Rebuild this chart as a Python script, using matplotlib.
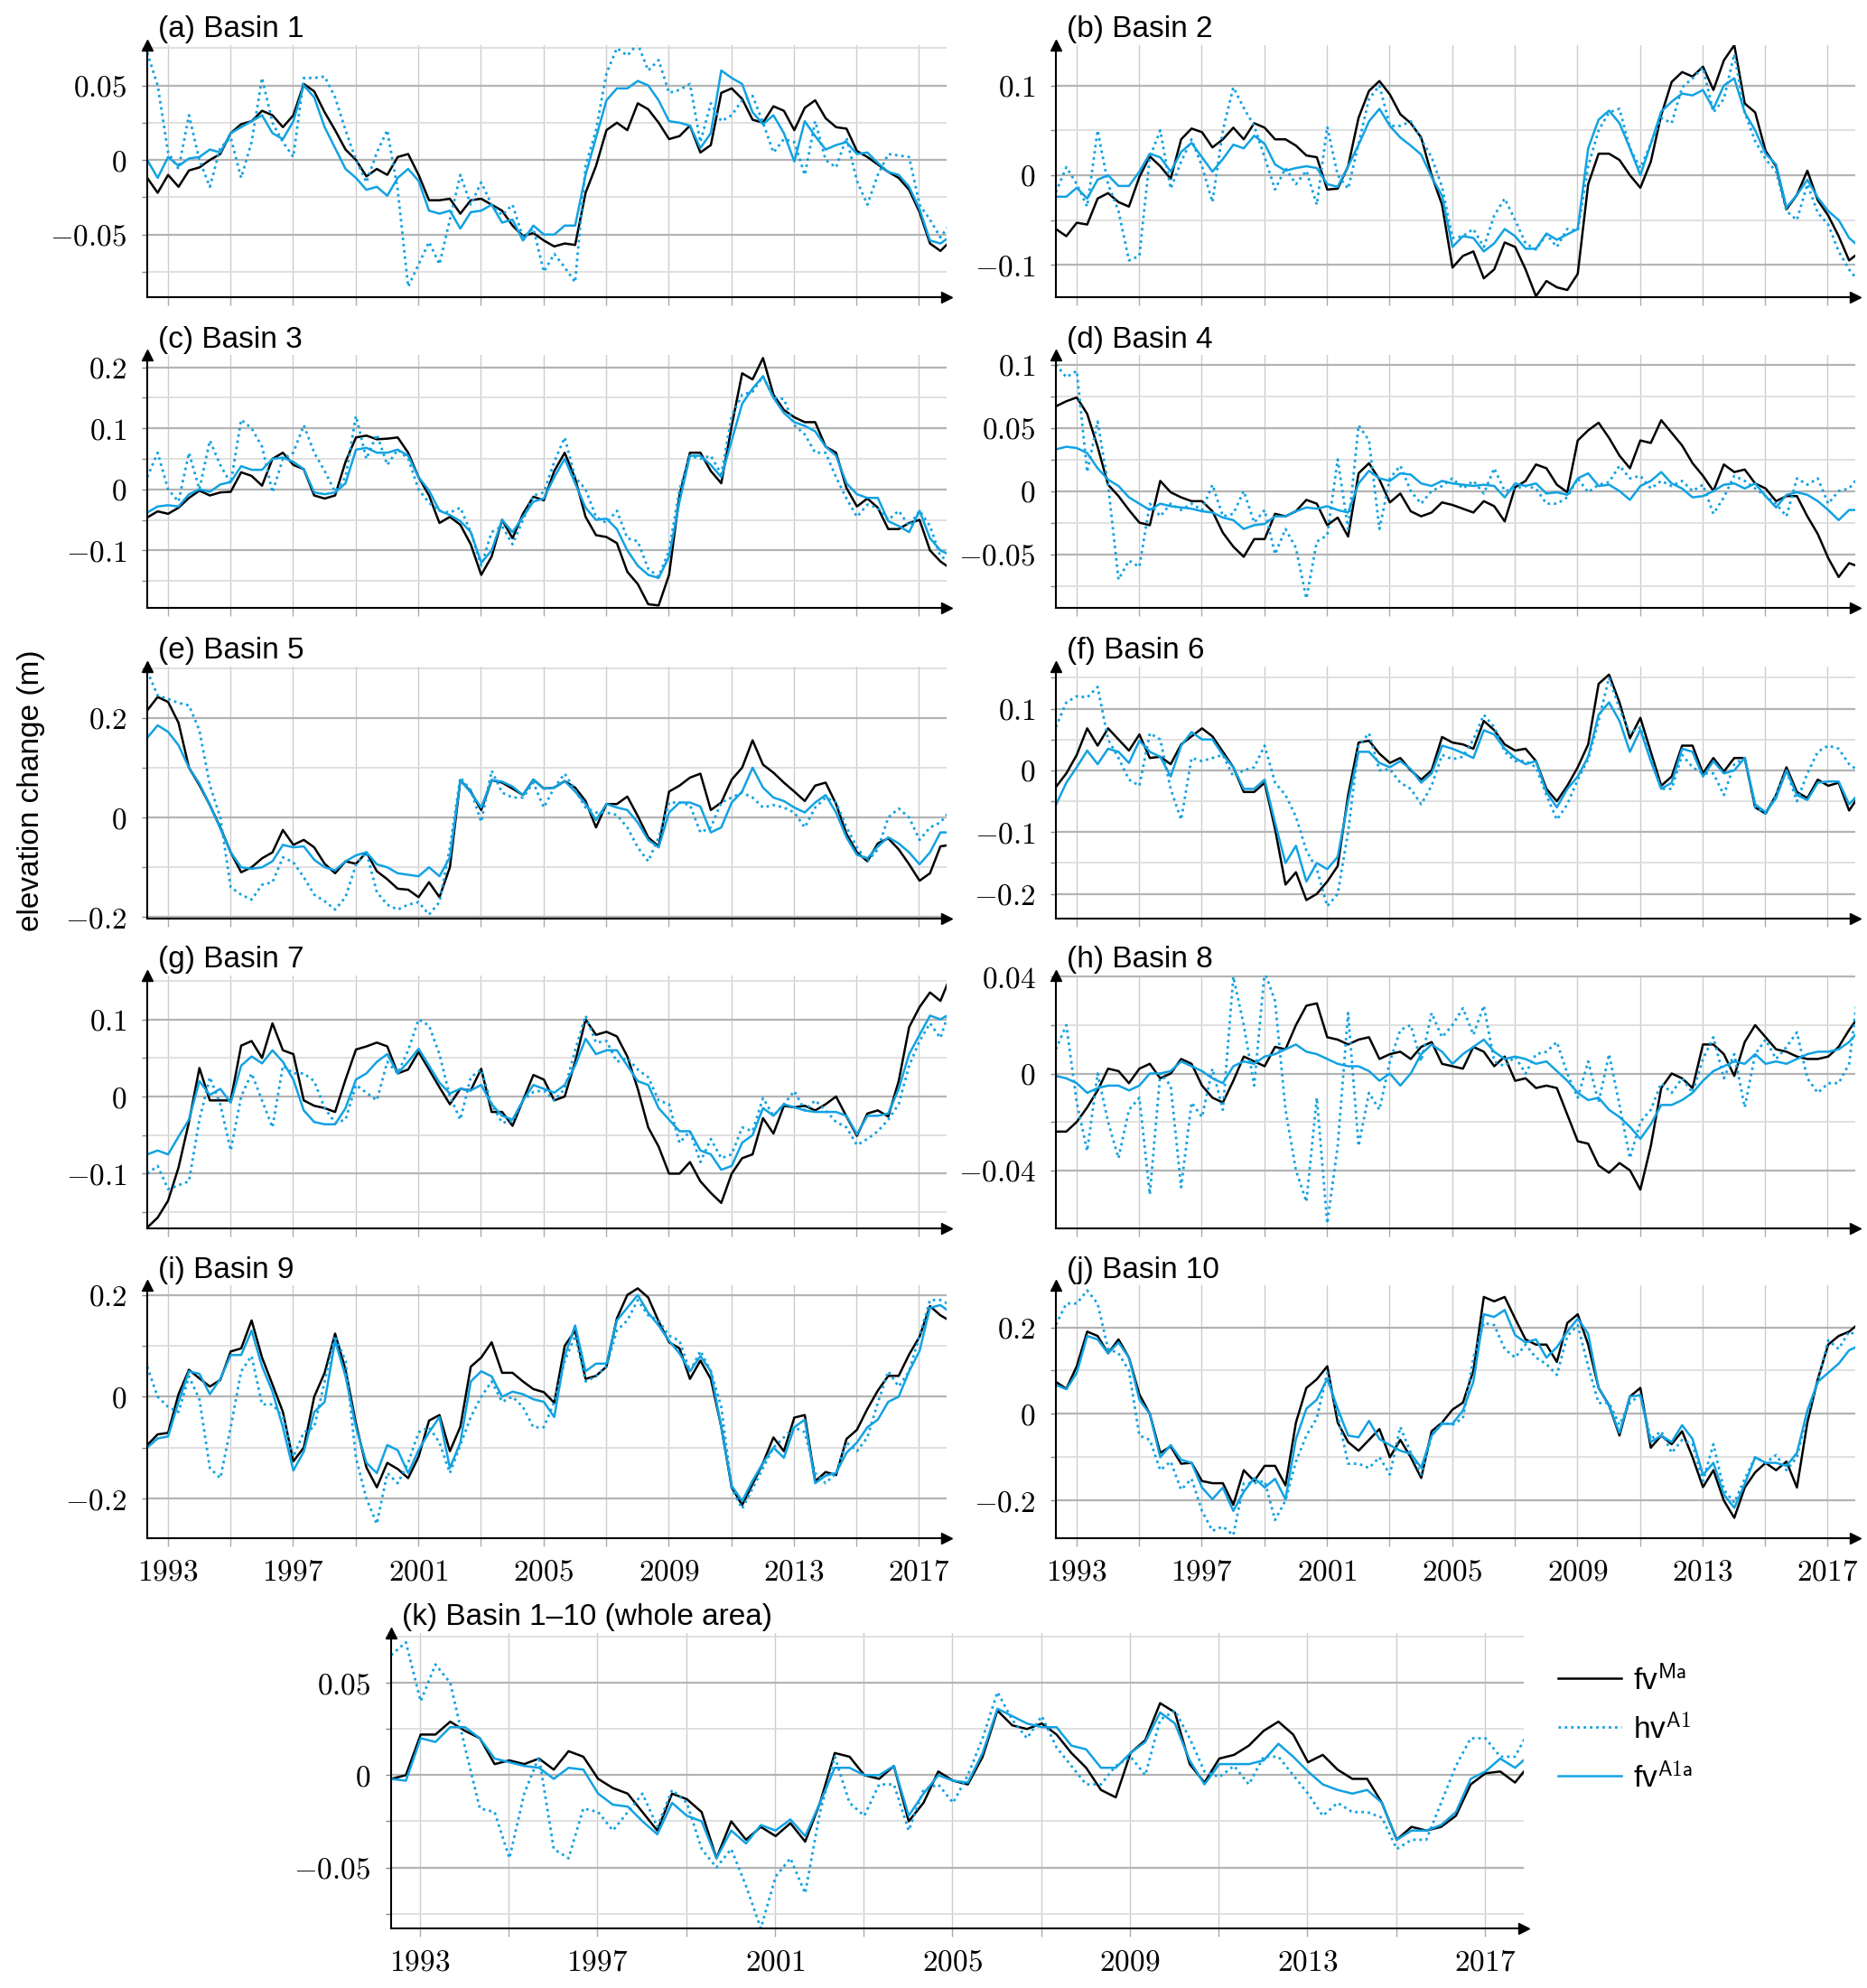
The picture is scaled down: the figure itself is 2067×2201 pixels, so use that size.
import numpy as np
import matplotlib
matplotlib.use('Agg')
import matplotlib.pyplot as plt
from matplotlib.lines import Line2D
from matplotlib.ticker import FixedLocator, FuncFormatter

plt.rcParams['font.family'] = ['Liberation Sans', 'DejaVu Sans']
plt.rcParams['mathtext.fontset'] = 'cm'

W, H = 2067, 2201
T0 = 1992.35          # first sample, one value every 4 months
XLIM = (1992.35, 2017.88)
BLUE = '#12a2e2'

# ---- Basin 1 ----
b1_fv_ma = [
    -0.012, -0.022, -0.010, -0.018, -0.007, -0.005, 0.000, 0.004, 0.018, 0.024, 0.026, 0.033, 0.030,
    0.022, 0.030, 0.051, 0.046, 0.032, 0.020, 0.007, 0.000, -0.011, -0.006, -0.010, 0.002, 0.004,
    -0.010, -0.027, -0.027, -0.026, -0.036, -0.027, -0.026, -0.030, -0.034, -0.044, -0.051, -0.049, -0.054,
    -0.058, -0.056, -0.057, -0.022, -0.004, 0.020, 0.025, 0.020, 0.038, 0.034, 0.025, 0.014, 0.016,
    0.023, 0.005, 0.010, 0.045, 0.048, 0.041, 0.027, 0.025, 0.036, 0.033, 0.020, 0.035, 0.040,
    0.028, 0.022, 0.021, 0.006, 0.002, -0.003, -0.008, -0.012, -0.020, -0.035, -0.056, -0.061, -0.054]
b1_hv_a1 = [
    0.072, 0.050, 0.005, -0.006, 0.030, 0.000, -0.018, 0.008, 0.015, -0.012, 0.012, 0.055, 0.025,
    0.012, 0.002, 0.055, 0.055, 0.056, 0.042, 0.020, 0.000, -0.015, 0.005, 0.020, -0.020, -0.085,
    -0.070, -0.055, -0.070, -0.040, -0.010, -0.030, -0.015, -0.030, -0.037, -0.030, -0.052, -0.046, -0.075,
    -0.063, -0.072, -0.082, -0.004, 0.020, 0.058, 0.075, 0.070, 0.078, 0.060, 0.067, 0.045, 0.047,
    0.051, 0.012, 0.038, 0.026, 0.030, 0.040, 0.043, 0.025, 0.005, 0.014, 0.012, -0.010, 0.026,
    0.000, -0.005, 0.015, -0.014, -0.030, -0.010, 0.004, 0.003, 0.002, -0.030, -0.040, -0.052, -0.042]
b1_fv_a1a = [
    0.000, -0.012, 0.002, -0.004, 0.001, 0.002, 0.007, 0.005, 0.018, 0.022, 0.026, 0.030, 0.018,
    0.014, 0.026, 0.050, 0.042, 0.022, 0.008, -0.006, -0.012, -0.020, -0.018, -0.024, -0.012, -0.006,
    -0.014, -0.034, -0.036, -0.034, -0.046, -0.035, -0.034, -0.030, -0.042, -0.040, -0.054, -0.044, -0.050,
    -0.050, -0.044, -0.044, -0.010, 0.015, 0.040, 0.048, 0.048, 0.053, 0.050, 0.040, 0.026, 0.025,
    0.023, 0.008, 0.018, 0.060, 0.055, 0.051, 0.032, 0.024, 0.030, 0.018, -0.001, 0.026, 0.016,
    0.007, 0.010, 0.012, 0.004, 0.005, -0.002, -0.008, -0.010, -0.018, -0.033, -0.054, -0.056, -0.051]

# ---- Basin 2 ----
b2_fv_ma = [
    -0.060, -0.068, -0.053, -0.055, -0.026, -0.020, -0.030, -0.035, -0.002, 0.021, 0.010, -0.004, 0.040,
    0.052, 0.048, 0.031, 0.040, 0.053, 0.040, 0.058, 0.053, 0.040, 0.040, 0.033, 0.022, 0.020,
    -0.016, -0.015, 0.010, 0.064, 0.094, 0.105, 0.090, 0.068, 0.058, 0.042, 0.000, -0.033, -0.103,
    -0.090, -0.085, -0.115, -0.105, -0.075, -0.080, -0.105, -0.135, -0.118, -0.125, -0.128, -0.110, -0.010,
    0.024, 0.024, 0.017, 0.000, -0.014, 0.015, 0.067, 0.104, 0.115, 0.110, 0.121, 0.095, 0.128,
    0.145, 0.080, 0.070, 0.027, 0.010, -0.038, -0.022, 0.005, -0.028, -0.045, -0.068, -0.095, -0.086]
b2_hv_a1 = [
    -0.019, 0.009, -0.010, -0.035, 0.050, -0.010, -0.040, -0.095, -0.090, 0.020, 0.050, -0.015, 0.015,
    0.040, 0.010, -0.030, 0.050, 0.098, 0.075, 0.055, 0.020, -0.016, 0.008, -0.010, 0.005, -0.033,
    0.054, 0.000, -0.015, 0.035, 0.085, 0.100, 0.055, 0.055, 0.060, 0.040, 0.020, -0.013, -0.070,
    -0.068, -0.060, -0.080, -0.045, -0.026, -0.050, -0.076, -0.083, -0.066, -0.080, -0.060, -0.062, 0.010,
    0.050, 0.070, 0.074, 0.030, 0.008, 0.035, 0.064, 0.058, 0.098, 0.108, 0.120, 0.070, 0.085,
    0.135, 0.070, 0.038, 0.018, 0.004, -0.040, -0.050, -0.010, -0.042, -0.055, -0.085, -0.105, -0.120]
b2_fv_a1a = [
    -0.024, -0.024, -0.014, -0.026, -0.005, 0.000, -0.012, -0.012, 0.004, 0.024, 0.020, 0.004, 0.026,
    0.036, 0.020, 0.004, 0.018, 0.034, 0.030, 0.044, 0.035, 0.012, 0.005, 0.008, 0.010, 0.008,
    -0.010, -0.013, 0.010, 0.034, 0.060, 0.074, 0.055, 0.042, 0.033, 0.023, -0.002, -0.023, -0.080,
    -0.068, -0.070, -0.085, -0.076, -0.060, -0.068, -0.082, -0.082, -0.065, -0.072, -0.066, -0.060, 0.030,
    0.062, 0.072, 0.058, 0.030, 0.000, 0.035, 0.071, 0.082, 0.091, 0.089, 0.095, 0.074, 0.100,
    0.108, 0.070, 0.050, 0.024, 0.012, -0.036, -0.022, -0.005, -0.025, -0.040, -0.050, -0.070, -0.080]

# ---- Basin 3 ----
b3_fv_ma = [
    -0.046, -0.036, -0.040, -0.030, -0.014, -0.002, -0.010, -0.005, -0.004, 0.028, 0.022, 0.006, 0.050,
    0.060, 0.040, 0.033, -0.010, -0.015, -0.010, 0.045, 0.085, 0.088, 0.082, 0.083, 0.085, 0.060,
    0.020, -0.010, -0.055, -0.045, -0.058, -0.090, -0.140, -0.110, -0.050, -0.080, -0.040, -0.012, -0.018,
    0.030, 0.060, 0.018, -0.045, -0.075, -0.078, -0.088, -0.135, -0.155, -0.188, -0.190, -0.140, -0.010,
    0.060, 0.060, 0.030, 0.010, 0.104, 0.190, 0.180, 0.215, 0.155, 0.130, 0.118, 0.110, 0.110,
    0.070, 0.060, 0.002, -0.028, -0.015, -0.030, -0.065, -0.065, -0.055, -0.050, -0.100, -0.118, -0.130]
b3_hv_a1 = [
    0.020, 0.060, 0.000, -0.020, 0.060, 0.000, 0.080, 0.040, 0.010, 0.114, 0.100, 0.070, -0.005,
    0.050, 0.060, 0.105, 0.060, 0.030, -0.004, 0.020, 0.120, 0.050, 0.090, 0.040, 0.065, 0.050,
    0.000, -0.022, -0.035, -0.038, -0.030, -0.070, -0.125, -0.070, -0.060, -0.090, -0.050, -0.010, -0.005,
    0.045, 0.085, 0.020, 0.000, -0.045, -0.055, -0.035, -0.080, -0.085, -0.130, -0.143, -0.100, 0.000,
    0.055, 0.050, 0.055, 0.025, 0.120, 0.155, 0.160, 0.185, 0.150, 0.148, 0.105, 0.090, 0.060,
    0.060, 0.020, -0.015, -0.045, -0.025, -0.030, -0.050, -0.035, -0.060, -0.035, -0.060, -0.110, -0.117]
b3_fv_a1a = [
    -0.038, -0.028, -0.026, -0.028, -0.008, 0.000, -0.004, 0.008, 0.012, 0.038, 0.032, 0.032, 0.050,
    0.052, 0.045, 0.033, -0.005, -0.008, -0.005, 0.010, 0.065, 0.068, 0.060, 0.060, 0.065, 0.055,
    0.020, -0.002, -0.035, -0.042, -0.052, -0.070, -0.120, -0.100, -0.050, -0.070, -0.045, -0.020, -0.015,
    0.020, 0.050, 0.010, -0.030, -0.050, -0.048, -0.065, -0.100, -0.125, -0.140, -0.145, -0.110, -0.020,
    0.055, 0.055, 0.040, 0.020, 0.080, 0.140, 0.165, 0.185, 0.150, 0.125, 0.110, 0.104, 0.095,
    0.070, 0.055, 0.010, -0.008, -0.014, -0.014, -0.052, -0.060, -0.070, -0.035, -0.080, -0.100, -0.108]

# ---- Basin 4 ----
b4_fv_ma = [
    0.067, 0.071, 0.074, 0.061, 0.035, 0.005, -0.004, -0.015, -0.025, -0.027, 0.008, -0.001, -0.005,
    -0.008, -0.008, -0.016, -0.033, -0.044, -0.052, -0.038, -0.038, -0.018, -0.020, -0.016, -0.007, -0.010,
    -0.027, -0.021, -0.036, 0.014, 0.022, 0.009, -0.009, -0.002, -0.016, -0.020, -0.017, -0.009, -0.011,
    -0.014, -0.017, -0.008, -0.012, -0.024, 0.003, 0.008, 0.021, 0.018, 0.005, -0.001, 0.040, 0.048,
    0.054, 0.042, 0.028, 0.018, 0.040, 0.038, 0.056, 0.046, 0.036, 0.022, 0.012, 0.000, 0.021,
    0.015, 0.017, 0.006, 0.002, -0.008, -0.004, -0.004, -0.020, -0.034, -0.053, -0.068, -0.057, -0.060]
b4_hv_a1 = [
    0.100, 0.090, 0.095, 0.015, 0.055, 0.005, -0.070, -0.055, -0.060, -0.010, -0.020, -0.010, -0.015,
    -0.010, -0.015, 0.005, -0.020, -0.018, 0.000, -0.025, -0.015, -0.050, -0.030, -0.045, -0.085, -0.040,
    -0.035, 0.025, -0.030, 0.052, 0.040, -0.030, 0.010, 0.020, 0.000, -0.010, 0.000, 0.004, 0.010,
    0.002, 0.008, -0.002, 0.018, 0.000, 0.002, 0.004, 0.002, -0.010, -0.010, -0.005, 0.010, -0.001,
    0.005, 0.007, 0.020, 0.010, 0.012, 0.002, 0.008, 0.004, 0.008, 0.000, 0.005, -0.018, -0.005,
    0.012, 0.008, 0.002, -0.004, -0.010, -0.020, 0.010, 0.005, 0.010, -0.010, 0.000, 0.002, 0.012]
b4_fv_a1a = [
    0.033, 0.035, 0.034, 0.030, 0.018, 0.009, 0.004, -0.005, -0.010, -0.015, -0.010, -0.012, -0.013,
    -0.014, -0.016, -0.017, -0.021, -0.023, -0.030, -0.027, -0.026, -0.020, -0.020, -0.016, -0.013, -0.014,
    -0.012, -0.015, -0.017, 0.006, 0.016, 0.010, 0.008, 0.014, 0.013, 0.006, 0.004, 0.008, 0.006,
    0.005, 0.004, 0.005, 0.004, -0.005, 0.006, 0.004, 0.006, -0.002, -0.001, -0.003, 0.010, 0.014,
    0.004, 0.005, 0.000, -0.007, 0.004, 0.008, 0.015, 0.006, 0.002, -0.005, -0.004, 0.000, 0.005,
    0.006, 0.002, 0.006, -0.004, -0.013, -0.003, -0.001, -0.003, -0.008, -0.015, -0.023, -0.015, -0.015]

# ---- Basin 5 ----
b5_fv_ma = [
    0.215, 0.242, 0.232, 0.190, 0.100, 0.065, 0.025, -0.020, -0.070, -0.110, -0.100, -0.082, -0.070,
    -0.025, -0.055, -0.045, -0.060, -0.093, -0.112, -0.088, -0.093, -0.070, -0.108, -0.124, -0.143, -0.145,
    -0.160, -0.130, -0.160, -0.100, 0.075, 0.052, 0.015, 0.075, 0.070, 0.058, 0.045, 0.076, 0.058,
    0.060, 0.073, 0.060, 0.033, -0.020, 0.027, 0.027, 0.042, 0.003, -0.040, -0.058, 0.052, 0.064,
    0.080, 0.088, 0.015, 0.030, 0.076, 0.100, 0.155, 0.106, 0.090, 0.070, 0.052, 0.033, 0.064,
    0.070, 0.027, -0.033, -0.070, -0.088, -0.052, -0.042, -0.064, -0.094, -0.127, -0.112, -0.058, -0.055]
b5_hv_a1 = [
    0.294, 0.245, 0.238, 0.230, 0.225, 0.175, 0.065, 0.000, -0.140, -0.155, -0.165, -0.135, -0.130,
    -0.080, -0.090, -0.120, -0.155, -0.168, -0.185, -0.160, -0.095, -0.070, -0.150, -0.175, -0.185, -0.175,
    -0.170, -0.195, -0.170, -0.060, 0.080, 0.055, -0.009, 0.094, 0.050, 0.040, 0.040, 0.070, 0.020,
    0.060, 0.088, 0.055, 0.020, 0.010, 0.010, 0.005, -0.020, -0.060, -0.088, -0.040, 0.030, 0.030,
    0.025, -0.030, -0.020, 0.030, 0.040, 0.050, 0.040, 0.020, 0.025, 0.020, 0.010, -0.020, 0.020,
    0.040, 0.030, -0.020, -0.060, -0.088, -0.064, 0.000, 0.018, 0.000, -0.045, -0.020, -0.010, 0.015]
b5_fv_a1a = [
    0.160, 0.185, 0.172, 0.145, 0.100, 0.068, 0.025, -0.022, -0.070, -0.100, -0.103, -0.100, -0.088,
    -0.055, -0.060, -0.058, -0.085, -0.100, -0.106, -0.088, -0.076, -0.070, -0.094, -0.100, -0.112, -0.115,
    -0.118, -0.100, -0.118, -0.080, 0.075, 0.050, 0.020, 0.075, 0.072, 0.062, 0.045, 0.076, 0.058,
    0.060, 0.073, 0.052, 0.027, -0.005, 0.027, 0.020, 0.015, -0.010, -0.045, -0.060, 0.010, 0.030,
    0.030, 0.022, -0.030, -0.020, 0.030, 0.052, 0.100, 0.060, 0.040, 0.033, 0.020, 0.010, 0.030,
    0.045, 0.010, -0.040, -0.075, -0.082, -0.058, -0.040, -0.052, -0.070, -0.094, -0.070, -0.030, -0.030]

# ---- Basin 6 ----
b6_fv_ma = [
    -0.027, -0.005, 0.025, 0.068, 0.040, 0.068, 0.050, 0.032, 0.058, 0.020, 0.022, 0.010, 0.042,
    0.055, 0.068, 0.055, 0.030, 0.005, -0.035, -0.035, -0.020, -0.095, -0.185, -0.165, -0.210, -0.200,
    -0.180, -0.155, -0.040, 0.045, 0.048, 0.027, 0.012, 0.020, 0.000, -0.015, 0.000, 0.054, 0.045,
    0.042, 0.035, 0.080, 0.065, 0.042, 0.032, 0.035, 0.015, -0.030, -0.050, -0.025, 0.005, 0.042,
    0.140, 0.155, 0.110, 0.052, 0.085, 0.030, -0.025, -0.010, 0.040, 0.040, -0.005, 0.020, -0.002,
    0.020, 0.020, -0.060, -0.070, -0.040, 0.005, -0.035, -0.045, -0.015, -0.025, -0.020, -0.065, -0.040]
b6_hv_a1 = [
    0.070, 0.110, 0.120, 0.118, 0.135, 0.050, 0.020, -0.015, -0.025, 0.060, 0.050, -0.030, -0.080,
    0.020, 0.015, 0.020, 0.025, -0.010, 0.000, 0.005, 0.040, -0.020, -0.040, -0.075, -0.130, -0.160,
    -0.220, -0.200, -0.100, 0.040, 0.060, 0.000, 0.002, -0.020, -0.030, -0.055, -0.025, 0.025, 0.018,
    0.022, 0.050, 0.090, 0.070, 0.030, 0.015, 0.015, 0.005, -0.040, -0.080, -0.055, -0.015, 0.018,
    0.080, 0.150, 0.100, 0.060, 0.070, 0.020, -0.030, -0.030, 0.025, 0.005, -0.005, -0.005, -0.040,
    0.010, 0.020, -0.060, -0.070, -0.040, 0.000, -0.050, -0.005, 0.030, 0.040, 0.035, 0.010, -0.002]
b6_fv_a1a = [
    -0.056, -0.020, 0.005, 0.032, 0.010, 0.035, 0.030, 0.012, 0.048, 0.030, 0.022, -0.010, 0.040,
    0.062, 0.050, 0.050, 0.025, 0.005, -0.030, -0.030, -0.015, -0.085, -0.150, -0.122, -0.180, -0.150,
    -0.160, -0.140, -0.050, 0.030, 0.030, 0.012, 0.005, 0.015, 0.002, -0.020, -0.005, 0.040, 0.035,
    0.028, 0.020, 0.065, 0.058, 0.035, 0.020, 0.010, 0.015, -0.035, -0.060, -0.030, -0.010, 0.022,
    0.090, 0.110, 0.080, 0.030, 0.066, 0.015, -0.030, -0.020, 0.035, 0.030, -0.010, 0.015, -0.005,
    0.000, 0.020, -0.055, -0.068, -0.045, 0.000, -0.040, -0.048, -0.020, -0.018, -0.018, -0.055, -0.037]

# ---- Basin 7 ----
b7_fv_ma = [
    -0.170, -0.157, -0.135, -0.092, -0.033, 0.037, -0.005, -0.005, -0.005, 0.066, 0.072, 0.050, 0.095,
    0.060, 0.055, -0.005, -0.012, -0.015, -0.020, 0.022, 0.061, 0.065, 0.070, 0.065, 0.030, 0.035,
    0.058, 0.035, 0.012, -0.010, 0.010, 0.008, 0.036, -0.020, -0.020, -0.038, -0.005, 0.028, 0.022,
    -0.005, 0.000, 0.045, 0.100, 0.080, 0.084, 0.078, 0.052, 0.010, -0.040, -0.065, -0.100, -0.100,
    -0.085, -0.110, -0.125, -0.138, -0.100, -0.080, -0.075, -0.028, -0.048, -0.012, -0.014, -0.012, -0.018,
    -0.010, 0.000, -0.026, -0.051, -0.022, -0.018, -0.026, 0.020, 0.090, 0.116, 0.135, 0.124, 0.157]
b7_hv_a1 = [
    -0.100, -0.090, -0.120, -0.115, -0.110, -0.030, 0.025, -0.010, -0.070, 0.000, 0.030, -0.005, -0.040,
    0.040, 0.030, 0.030, 0.020, -0.015, -0.034, -0.030, 0.015, 0.005, -0.005, 0.045, 0.030, 0.060,
    0.100, 0.092, 0.055, 0.000, -0.030, 0.025, 0.035, -0.010, -0.034, -0.032, -0.005, 0.006, 0.008,
    -0.005, 0.010, 0.060, 0.105, 0.070, 0.072, 0.045, 0.050, 0.035, 0.025, -0.005, -0.010, -0.060,
    -0.045, -0.085, -0.055, -0.080, -0.075, -0.040, -0.045, -0.002, -0.025, -0.010, 0.007, -0.018, -0.005,
    -0.018, -0.033, -0.040, -0.063, -0.055, -0.045, -0.030, -0.010, 0.040, 0.072, 0.095, 0.076, 0.118]
b7_fv_a1a = [
    -0.075, -0.070, -0.075, -0.052, -0.030, 0.020, 0.002, 0.010, -0.008, 0.040, 0.052, 0.043, 0.060,
    0.045, 0.022, -0.018, -0.033, -0.036, -0.036, -0.015, 0.022, 0.030, 0.045, 0.055, 0.030, 0.045,
    0.062, 0.040, 0.018, 0.004, 0.010, 0.008, 0.015, -0.010, -0.025, -0.030, -0.005, 0.015, 0.010,
    0.005, 0.015, 0.040, 0.075, 0.055, 0.060, 0.060, 0.040, 0.020, 0.015, -0.015, -0.030, -0.045,
    -0.045, -0.070, -0.075, -0.095, -0.090, -0.060, -0.050, -0.015, -0.025, -0.010, -0.014, -0.018, -0.020,
    -0.020, -0.020, -0.025, -0.049, -0.025, -0.025, -0.022, 0.010, 0.055, 0.080, 0.105, 0.100, 0.108]

# ---- Basin 8 ----
b8_fv_ma = [
    -0.024, -0.024, -0.020, -0.014, -0.007, 0.002, 0.001, -0.004, 0.002, 0.004, -0.002, 0.000, 0.006,
    0.004, -0.005, -0.010, -0.012, -0.003, 0.007, 0.005, 0.003, 0.011, 0.010, 0.020, 0.028, 0.029,
    0.015, 0.014, 0.012, 0.014, 0.015, 0.006, 0.008, 0.009, 0.006, 0.011, 0.013, 0.004, 0.003,
    0.002, 0.011, 0.009, 0.003, 0.007, -0.003, -0.002, -0.006, -0.005, -0.006, -0.017, -0.028, -0.029,
    -0.038, -0.041, -0.037, -0.040, -0.048, -0.030, -0.006, 0.000, -0.002, -0.006, 0.012, 0.012, 0.008,
    -0.001, 0.013, 0.020, 0.015, 0.010, 0.009, 0.007, 0.006, 0.006, 0.007, 0.011, 0.018, 0.024]
b8_hv_a1 = [
    0.010, 0.020, -0.012, -0.032, 0.000, -0.020, -0.035, -0.015, -0.010, -0.050, 0.000, -0.005, -0.047,
    -0.012, -0.018, 0.002, -0.015, 0.040, 0.020, -0.005, 0.042, 0.030, -0.015, -0.040, -0.053, -0.010,
    -0.062, -0.030, 0.025, -0.030, -0.008, -0.015, 0.005, 0.018, 0.020, 0.005, 0.025, 0.015, 0.020,
    0.027, 0.016, 0.028, 0.005, 0.003, 0.007, 0.000, 0.008, 0.009, 0.013, 0.000, -0.010, 0.005,
    -0.012, 0.008, -0.013, -0.035, -0.020, -0.015, -0.004, -0.008, -0.002, -0.008, 0.006, 0.015, -0.002,
    0.008, -0.014, 0.008, 0.014, 0.006, 0.011, 0.017, -0.002, -0.008, -0.004, -0.004, 0.004, 0.039]
b8_fv_a1a = [
    -0.001, -0.002, -0.004, -0.008, -0.006, -0.005, -0.005, -0.007, -0.005, 0.000, 0.000, 0.001, 0.005,
    0.003, 0.001, -0.002, -0.004, 0.003, 0.005, 0.004, 0.007, 0.008, 0.010, 0.012, 0.009, 0.008,
    0.006, 0.004, 0.003, 0.003, 0.001, -0.003, 0.000, -0.005, 0.000, 0.008, 0.012, 0.009, 0.004,
    0.008, 0.011, 0.014, 0.009, 0.006, 0.007, 0.006, 0.004, 0.005, 0.001, -0.003, -0.008, -0.011,
    -0.010, -0.015, -0.018, -0.022, -0.027, -0.021, -0.013, -0.013, -0.011, -0.008, -0.003, 0.001, 0.003,
    0.005, 0.004, 0.008, 0.004, 0.005, 0.004, 0.006, 0.008, 0.009, 0.009, 0.010, 0.013, 0.018]

# ---- Basin 9 ----
b9_fv_ma = [
    -0.095, -0.074, -0.071, 0.005, 0.053, 0.036, 0.020, 0.033, 0.089, 0.095, 0.150, 0.077, 0.024,
    -0.030, -0.127, -0.100, 0.000, 0.047, 0.124, 0.053, -0.053, -0.139, -0.178, -0.130, -0.142, -0.160,
    -0.118, -0.047, -0.036, -0.107, -0.059, 0.059, 0.077, 0.107, 0.047, 0.047, 0.030, 0.015, 0.009,
    -0.012, 0.100, 0.130, 0.035, 0.041, 0.059, 0.154, 0.200, 0.213, 0.195, 0.148, 0.107, 0.095,
    0.035, 0.071, 0.035, -0.059, -0.178, -0.213, -0.172, -0.130, -0.080, -0.107, -0.041, -0.036, -0.166,
    -0.148, -0.154, -0.083, -0.065, -0.024, 0.012, 0.041, 0.041, 0.083, 0.118, 0.178, 0.160, 0.148]
b9_hv_a1 = [
    0.059, 0.000, -0.020, -0.030, 0.040, -0.005, -0.140, -0.160, -0.060, 0.050, 0.080, -0.015, -0.015,
    -0.040, -0.118, -0.070, -0.060, 0.030, 0.120, 0.070, -0.120, -0.200, -0.250, -0.150, -0.170, -0.130,
    -0.070, -0.060, -0.090, -0.150, -0.095, -0.040, 0.000, 0.030, -0.010, 0.000, -0.020, -0.060, -0.060,
    -0.010, 0.070, 0.120, 0.030, 0.040, 0.060, 0.130, 0.150, 0.190, 0.160, 0.150, 0.120, 0.110,
    0.050, 0.090, 0.050, -0.020, -0.180, -0.220, -0.180, -0.140, -0.100, -0.080, -0.060, -0.070, -0.150,
    -0.170, -0.150, -0.090, -0.107, -0.080, -0.012, 0.050, 0.020, 0.050, 0.120, 0.190, 0.190, 0.180]
b9_fv_a1a = [
    -0.100, -0.082, -0.078, -0.010, 0.050, 0.045, 0.005, 0.035, 0.082, 0.082, 0.130, 0.060, 0.010,
    -0.060, -0.145, -0.108, -0.030, -0.010, 0.110, 0.040, -0.060, -0.130, -0.150, -0.095, -0.105, -0.150,
    -0.105, -0.070, -0.040, -0.140, -0.090, 0.030, 0.050, 0.040, 0.000, 0.010, 0.005, -0.005, -0.010,
    -0.040, 0.080, 0.140, 0.050, 0.065, 0.065, 0.150, 0.175, 0.200, 0.165, 0.140, 0.110, 0.085,
    0.050, 0.080, 0.050, -0.060, -0.175, -0.205, -0.165, -0.130, -0.100, -0.120, -0.060, -0.045, -0.170,
    -0.155, -0.150, -0.110, -0.090, -0.060, -0.045, -0.010, 0.000, 0.050, 0.090, 0.175, 0.180, 0.165]

# ---- Basin 10 ----
b10_fv_ma = [
    0.074, 0.058, 0.110, 0.190, 0.180, 0.140, 0.172, 0.130, 0.045, 0.000, -0.090, -0.075, -0.115,
    -0.113, -0.155, -0.160, -0.160, -0.210, -0.130, -0.155, -0.120, -0.120, -0.165, -0.020, 0.060, 0.080,
    0.110, -0.020, -0.065, -0.085, -0.060, -0.035, -0.100, -0.060, -0.100, -0.148, -0.040, -0.020, 0.010,
    0.026, 0.100, 0.270, 0.260, 0.270, 0.220, 0.172, 0.160, 0.160, 0.120, 0.210, 0.230, 0.160,
    0.060, 0.020, -0.050, 0.040, 0.060, -0.078, -0.050, -0.070, -0.040, -0.100, -0.169, -0.130, -0.200,
    -0.240, -0.170, -0.135, -0.113, -0.130, -0.110, -0.170, -0.020, 0.080, 0.160, 0.180, 0.190, 0.210]
b10_hv_a1 = [
    0.206, 0.255, 0.255, 0.285, 0.255, 0.150, 0.140, 0.100, -0.050, -0.060, -0.130, -0.110, -0.175,
    -0.150, -0.224, -0.270, -0.260, -0.280, -0.160, -0.160, -0.155, -0.245, -0.200, -0.110, -0.050, -0.010,
    0.095, -0.002, -0.115, -0.115, -0.125, -0.100, -0.140, -0.030, -0.090, -0.140, -0.050, -0.020, -0.025,
    -0.010, 0.130, 0.210, 0.205, 0.150, 0.130, 0.160, 0.130, 0.115, 0.090, 0.180, 0.205, 0.110,
    0.025, 0.025, -0.025, 0.025, 0.045, -0.058, -0.040, -0.090, -0.060, -0.070, -0.155, -0.070, -0.175,
    -0.205, -0.150, -0.100, -0.113, -0.095, -0.130, -0.100, 0.000, 0.074, 0.170, 0.150, 0.190, 0.178]
b10_fv_a1a = [
    0.067, 0.057, 0.095, 0.180, 0.172, 0.140, 0.165, 0.130, 0.033, 0.000, -0.100, -0.072, -0.106,
    -0.113, -0.170, -0.197, -0.170, -0.224, -0.180, -0.148, -0.170, -0.150, -0.197, -0.058, 0.012, 0.033,
    0.081, 0.012, -0.050, -0.054, -0.016, -0.058, -0.072, -0.085, -0.092, -0.124, -0.050, -0.023, -0.023,
    0.008, 0.074, 0.230, 0.224, 0.240, 0.182, 0.165, 0.172, 0.130, 0.154, 0.190, 0.220, 0.185,
    0.060, 0.019, -0.044, 0.040, 0.043, -0.065, -0.050, -0.065, -0.026, -0.058, -0.141, -0.113, -0.186,
    -0.217, -0.162, -0.100, -0.113, -0.113, -0.120, -0.090, 0.008, 0.074, 0.095, 0.116, 0.147, 0.158]

# ---- Basin 1-10 (whole area) ----
all_fv_ma = [
    -0.002, 0.000, 0.022, 0.022, 0.029, 0.024, 0.020, 0.006, 0.008, 0.006, 0.009, 0.003, 0.013,
    0.010, -0.002, -0.007, -0.010, -0.020, -0.030, -0.010, -0.013, -0.020, -0.045, -0.025, -0.035, -0.028,
    -0.033, -0.026, -0.036, -0.015, 0.012, 0.010, 0.000, -0.002, 0.005, -0.025, -0.015, 0.002, -0.003,
    -0.005, 0.010, 0.035, 0.027, 0.025, 0.028, 0.022, 0.012, 0.004, -0.008, -0.012, 0.012, 0.019,
    0.039, 0.034, 0.006, -0.004, 0.009, 0.011, 0.016, 0.024, 0.029, 0.022, 0.007, 0.011, 0.003,
    -0.002, -0.002, -0.015, -0.035, -0.028, -0.030, -0.028, -0.022, -0.005, 0.001, 0.002, -0.004, 0.006]
all_hv_a1 = [
    0.065, 0.072, 0.040, 0.060, 0.050, 0.015, -0.018, -0.020, -0.045, -0.010, 0.010, -0.040, -0.045,
    -0.018, -0.020, -0.030, -0.020, -0.010, -0.028, -0.008, -0.015, -0.040, -0.050, -0.040, -0.060, -0.083,
    -0.055, -0.045, -0.064, -0.020, 0.010, -0.015, -0.022, -0.005, -0.005, -0.030, -0.008, -0.005, -0.015,
    0.000, 0.020, 0.045, 0.030, 0.020, 0.032, 0.015, 0.005, -0.005, -0.005, 0.005, 0.010, 0.000,
    0.030, 0.035, 0.020, 0.002, -0.001, 0.005, -0.005, 0.010, 0.010, 0.000, -0.010, -0.022, -0.015,
    -0.020, -0.020, -0.023, -0.040, -0.035, -0.035, -0.015, 0.005, 0.020, 0.020, 0.010, 0.010, 0.025]
all_fv_a1a = [
    -0.002, -0.003, 0.020, 0.018, 0.026, 0.026, 0.020, 0.009, 0.007, 0.005, 0.004, -0.002, 0.004,
    0.003, -0.010, -0.016, -0.017, -0.025, -0.032, -0.015, -0.022, -0.025, -0.045, -0.030, -0.037, -0.027,
    -0.030, -0.024, -0.033, -0.015, 0.004, 0.004, 0.000, 0.000, 0.005, -0.022, -0.010, 0.000, -0.003,
    -0.004, 0.012, 0.036, 0.032, 0.028, 0.026, 0.026, 0.016, 0.014, 0.004, 0.004, 0.012, 0.018,
    0.034, 0.028, 0.008, -0.005, 0.006, 0.006, 0.006, 0.008, 0.017, 0.010, 0.002, -0.005, -0.008,
    -0.010, -0.008, -0.015, -0.035, -0.030, -0.030, -0.027, -0.020, -0.002, 0.002, 0.009, 0.004, 0.011]

# title, series, y range, major ticks, minor ticks, box (left, top, width, height in px), x labels
panels = [
    ('(a) Basin 1', b1_fv_ma, b1_hv_a1, b1_fv_a1a, (-0.092, 0.077), [-0.05, 0, 0.05],
     [-0.075, -0.025, 0.025, 0.075], (163, 50, 885, 279), False),
    ('(b) Basin 2', b2_fv_ma, b2_hv_a1, b2_fv_a1a, (-0.136, 0.145), [-0.1, 0, 0.1],
     [-0.05, 0.05], (1169, 50, 885, 279), False),
    ('(c) Basin 3', b3_fv_ma, b3_hv_a1, b3_fv_a1a, (-0.194, 0.22), [-0.1, 0, 0.1, 0.2],
     [-0.15, -0.05, 0.05, 0.15], (163, 393, 885, 280), False),
    ('(d) Basin 4', b4_fv_ma, b4_hv_a1, b4_fv_a1a, (-0.0924, 0.1076), [-0.05, 0, 0.05, 0.1],
     [-0.075, -0.025, 0.025, 0.075], (1169, 393, 885, 280), False),
    ('(e) Basin 5', b5_fv_ma, b5_hv_a1, b5_fv_a1a, (-0.203, 0.303), [-0.2, 0, 0.2],
     [-0.1, 0.1, 0.3], (163, 738, 885, 279), False),
    ('(f) Basin 6', b6_fv_ma, b6_hv_a1, b6_fv_a1a, (-0.24, 0.168), [-0.2, -0.1, 0, 0.1],
     [-0.15, -0.05, 0.05, 0.15], (1169, 738, 885, 279), False),
    ('(g) Basin 7', b7_fv_ma, b7_hv_a1, b7_fv_a1a, (-0.171, 0.157), [-0.1, 0, 0.1],
     [-0.15, -0.05, 0.05, 0.15], (163, 1080, 885, 280), False),
    ('(h) Basin 8', b8_fv_ma, b8_hv_a1, b8_fv_a1a, (-0.064, 0.0405), [-0.04, 0, 0.04],
     [-0.02, 0.02], (1169, 1080, 885, 280), False),
    ('(i) Basin 9', b9_fv_ma, b9_hv_a1, b9_fv_a1a, (-0.278, 0.219), [-0.2, 0, 0.2],
     [-0.1, 0.1], (163, 1423, 885, 280), True),
    ('(j) Basin 10', b10_fv_ma, b10_hv_a1, b10_fv_a1a, (-0.287, 0.297), [-0.2, 0, 0.2],
     [-0.1, 0.1], (1169, 1423, 885, 280), True),
    ('(k) Basin 1\u201310 (whole area)', all_fv_ma, all_hv_a1, all_fv_a1a, (-0.083, 0.077),
     [-0.05, 0, 0.05], [-0.075, -0.025, 0.025, 0.075], (433, 1808, 1254, 327), True),
]


def tick_fmt(v, pos):
    return '$%s$' % ('%g' % round(v, 4))


def draw_panel(fig, title, fv_ma, hv_a1, fv_a1a, ylim, major, minor, box, xlabels):
    x0, top, w, h = box
    ax = fig.add_axes([x0 / W, 1 - (top + h) / H, w / W, h / H])
    for vals, color, ls, lw in [(fv_ma, 'black', '-', 1.8),
                                (hv_a1, BLUE, (0, (1, 1.5)), 2.0),
                                (fv_a1a, BLUE, '-', 1.8)]:
        t = T0 + np.arange(len(vals)) / 3
        ax.plot(t, vals, color=color, ls=ls, lw=lw)
    ax.set_xlim(*XLIM)
    ax.set_ylim(*ylim)
    for s in ['top', 'right']:
        ax.spines[s].set_visible(False)
    for s in ['left', 'bottom']:
        ax.spines[s].set_linewidth(1.5)
    years = np.arange(1993, 2018, 2)
    ax.set_xticks(years)
    if xlabels:
        ax.set_xticklabels(['$%d$' % y if (y - 1993) % 4 == 0 else '' for y in years])
    else:
        ax.set_xticklabels([])
    ax.yaxis.set_major_locator(FixedLocator(major))
    ax.yaxis.set_minor_locator(FixedLocator(minor))
    ax.yaxis.set_major_formatter(FuncFormatter(tick_fmt))
    ax.set_axisbelow(True)
    ax.xaxis.grid(True, which='major', color='#cccccc', lw=1.0)
    ax.yaxis.grid(True, which='major', color='#b4b4b4', lw=1.6)
    ax.yaxis.grid(True, which='minor', color='#dddddd', lw=1.3)
    ax.tick_params(axis='y', which='both', direction='out', length=4, width=1,
                   color='#888888', labelsize=24, pad=12)
    ax.tick_params(axis='x', which='major', direction='out', length=6.5, width=1,
                   color='#aaaaaa', labelsize=24, pad=10)
    # axis arrows
    ax.plot(1, 0, marker='>', color='k', ms=9, transform=ax.transAxes, clip_on=False)
    ax.plot(0, 1, marker='^', color='k', ms=9, transform=ax.transAxes, clip_on=False)
    fig.text((x0 + 12) / W, 1 - (top - 17) / H, title, fontsize=24, ha='left', va='center')
    return ax


fig = plt.figure(figsize=(W / 100, H / 100), dpi=100)
for p in panels:
    draw_panel(fig, *p)

fig.text(35 / W, 1 - 875 / H, 'elevation change (m)', rotation=90, fontsize=24,
         ha='center', va='center')

# legend
legend_items = [('fv$^{\\mathsf{Ma}}$', 'black', '-', 1.8),
                ('hv$^{\\mathsf{A1}}$', BLUE, (0, (1, 1.5)), 2.0),
                ('fv$^{\\mathsf{A1a}}$', BLUE, '-', 1.8)]
for k, (label, color, ls, lw) in enumerate(legend_items):
    y = 1858 + 54 * k
    fig.add_artist(Line2D([1725 / W, 1795 / W], [1 - y / H, 1 - y / H],
                          color=color, ls=ls, lw=lw))
    fig.text(1808 / W, 1 - (y + 13) / H, label, fontsize=24, ha='left', va='baseline')

fig.savefig('out.png', dpi=100)
